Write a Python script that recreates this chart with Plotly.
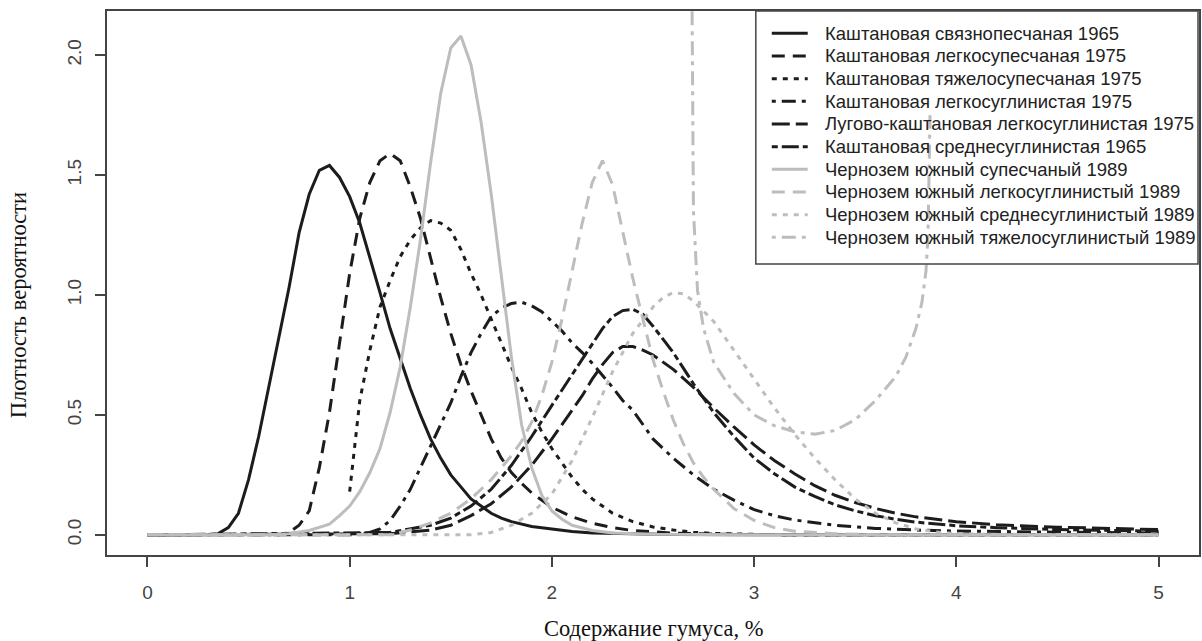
import plotly.graph_objects as go

# Humus content grid points (%) and probability density values per soil group
x_kvp65 = [0, 0.3, 0.35, 0.4, 0.45, 0.5, 0.55, 0.6, 0.65, 0.7, 0.75, 0.8, 0.85, 0.9, 0.95, 1.0,
           1.05, 1.1, 1.15, 1.2, 1.25, 1.3, 1.35, 1.4, 1.45, 1.5, 1.55, 1.6, 1.65, 1.7, 1.75, 1.8,
           1.9, 2.0, 2.1, 2.2, 2.4, 2.6, 3.0, 5.0]
y_kvp65 = [0, 0, 0.005, 0.03, 0.09, 0.23, 0.41, 0.62, 0.82, 1.03, 1.26, 1.42, 1.52, 1.54, 1.49, 1.41,
           1.30, 1.16, 1.01, 0.86, 0.73, 0.61, 0.50, 0.40, 0.32, 0.25, 0.20, 0.15, 0.12, 0.09, 0.07, 0.055,
           0.035, 0.024, 0.014, 0.008, 0.003, 0.001, 0, 0]

x_kls75 = [0, 0.65, 0.7, 0.75, 0.8, 0.85, 0.9, 0.95, 1.0, 1.05, 1.1, 1.15, 1.2, 1.25, 1.3, 1.35, 1.4,
           1.45, 1.5, 1.55, 1.6, 1.65, 1.7, 1.75, 1.8, 1.85, 1.9, 2.0, 2.1, 2.2, 2.3, 2.4, 2.6, 2.8, 3.0, 5.0]
y_kls75 = [0, 0, 0.01, 0.04, 0.10, 0.28, 0.51, 0.81, 1.09, 1.32, 1.47, 1.56, 1.59, 1.56, 1.45, 1.32, 1.15,
           0.99, 0.84, 0.71, 0.60, 0.50, 0.40, 0.32, 0.26, 0.215, 0.175, 0.115, 0.075, 0.048, 0.03, 0.018,
           0.007, 0.003, 0.001, 0]

x_kts75 = [1.0, 1.05, 1.1, 1.15, 1.2, 1.25, 1.3, 1.35, 1.4, 1.45, 1.5, 1.55, 1.6, 1.65, 1.7, 1.75, 1.8,
           1.85, 1.9, 1.95, 2.0, 2.05, 2.1, 2.15, 2.2, 2.3, 2.4, 2.5, 2.6, 2.7, 2.8, 3.0, 3.2, 5.0]
y_kts75 = [0.18, 0.56, 0.77, 0.95, 1.06, 1.16, 1.23, 1.28, 1.31, 1.30, 1.27, 1.19, 1.09, 1.00, 0.90, 0.80,
           0.70, 0.61, 0.51, 0.43, 0.36, 0.30, 0.24, 0.19, 0.15, 0.09, 0.055, 0.033, 0.02, 0.011, 0.006,
           0.002, 0, 0]

x_klg75 = [0, 1.0, 1.1, 1.15, 1.2, 1.25, 1.3, 1.35, 1.4, 1.45, 1.5, 1.55, 1.6, 1.65, 1.7, 1.75, 1.8, 1.85,
           1.9, 1.95, 2.0, 2.05, 2.1, 2.15, 2.2, 2.25, 2.3, 2.35, 2.4, 2.5, 2.6, 2.7, 2.8, 2.9, 3.0, 3.1,
           3.2, 3.4, 3.6, 3.8, 4.0, 4.5, 5.0]
y_klg75 = [0, 0, 0.01, 0.025, 0.06, 0.12, 0.19, 0.28, 0.37, 0.46, 0.55, 0.66, 0.76, 0.84, 0.91, 0.945,
           0.965, 0.97, 0.955, 0.93, 0.89, 0.85, 0.80, 0.76, 0.715, 0.665, 0.615, 0.56, 0.52, 0.40, 0.32,
           0.25, 0.19, 0.145, 0.105, 0.08, 0.062, 0.04, 0.027, 0.02, 0.016, 0.011, 0.008]

x_lkl75 = [0, 1.2, 1.4, 1.5, 1.6, 1.7, 1.8, 1.9, 2.0, 2.1, 2.15, 2.2, 2.25, 2.3, 2.35, 2.4, 2.45, 2.5,
           2.6, 2.7, 2.8, 2.9, 3.0, 3.1, 3.2, 3.3, 3.4, 3.5, 3.6, 3.7, 3.8, 4.0, 4.2, 4.5, 5.0]
y_lkl75 = [0, 0.005, 0.02, 0.04, 0.08, 0.13, 0.20, 0.29, 0.40, 0.52, 0.58, 0.65, 0.71, 0.76, 0.785,
           0.785, 0.77, 0.75, 0.69, 0.615, 0.53, 0.45, 0.375, 0.31, 0.255, 0.205, 0.165, 0.135, 0.11,
           0.09, 0.075, 0.055, 0.042, 0.032, 0.022]

x_ksr65 = [0, 1.2, 1.4, 1.5, 1.6, 1.7, 1.8, 1.9, 2.0, 2.1, 2.15, 2.2, 2.25, 2.3, 2.35, 2.4, 2.45, 2.5,
           2.6, 2.7, 2.8, 2.9, 3.0, 3.1, 3.2, 3.3, 3.4, 3.5, 3.6, 3.7, 3.8, 4.0, 4.2, 4.5, 5.0]
y_ksr65 = [0, 0.01, 0.04, 0.07, 0.12, 0.19, 0.29, 0.41, 0.54, 0.67, 0.73, 0.80, 0.86, 0.91, 0.935,
           0.94, 0.92, 0.87, 0.76, 0.63, 0.51, 0.41, 0.32, 0.255, 0.20, 0.16, 0.125, 0.10, 0.08, 0.065,
           0.053, 0.038, 0.03, 0.022, 0.015]

x_chs89 = [0, 0.6, 0.7, 0.8, 0.9, 0.95, 1.0, 1.05, 1.1, 1.15, 1.2, 1.25, 1.3, 1.35, 1.4, 1.45, 1.5, 1.55,
           1.6, 1.65, 1.7, 1.75, 1.8, 1.85, 1.9, 1.95, 2.0, 2.05, 2.1, 2.2, 2.3, 2.5, 3.0, 5.0]
y_chs89 = [0, 0, 0.005, 0.018, 0.045, 0.08, 0.12, 0.18, 0.26, 0.36, 0.51, 0.70, 0.95, 1.23, 1.55, 1.84,
           2.03, 2.08, 1.96, 1.72, 1.42, 1.08, 0.74, 0.46, 0.28, 0.165, 0.10, 0.065, 0.04, 0.018, 0.008,
           0.002, 0, 0]

x_chl89 = [0, 1.2, 1.3, 1.4, 1.5, 1.6, 1.7, 1.8, 1.85, 1.9, 1.95, 2.0, 2.05, 2.1, 2.15, 2.2, 2.25, 2.3,
           2.35, 2.4, 2.45, 2.5, 2.55, 2.6, 2.65, 2.7, 2.75, 2.8, 2.85, 2.9, 3.0, 3.1, 3.2, 3.4, 3.6, 5.0]
y_chl89 = [0, 0, 0.02, 0.05, 0.09, 0.15, 0.23, 0.33, 0.39, 0.47, 0.58, 0.72, 0.90, 1.10, 1.30, 1.47,
           1.56, 1.46, 1.27, 1.07, 0.90, 0.73, 0.60, 0.48, 0.38, 0.30, 0.24, 0.19, 0.15, 0.11, 0.06,
           0.03, 0.015, 0.005, 0, 0]

x_chm89 = [0, 1.6, 1.7, 1.8, 1.9, 2.0, 2.1, 2.2, 2.3, 2.4, 2.5, 2.55, 2.6, 2.65, 2.7, 2.8, 2.9, 3.0,
           3.1, 3.2, 3.3, 3.4, 3.5, 3.6, 3.7, 3.8, 3.9, 4.0, 4.2, 5.0]
y_chm89 = [0, 0, 0.01, 0.04, 0.09, 0.17, 0.31, 0.49, 0.68, 0.84, 0.95, 0.99, 1.01, 1.005, 0.975, 0.89,
           0.77, 0.65, 0.53, 0.42, 0.32, 0.23, 0.15, 0.09, 0.05, 0.025, 0.012, 0.005, 0.001, 0]

x_cht89 = [2.69, 2.70, 2.72, 2.75, 2.8, 2.9, 3.0, 3.1, 3.2, 3.3, 3.4, 3.5, 3.6, 3.7, 3.75, 3.8, 3.83,
           3.85, 3.86, 3.87]
y_cht89 = [2.6, 1.35, 1.02, 0.86, 0.72, 0.59, 0.50, 0.455, 0.43, 0.42, 0.435, 0.48, 0.56, 0.66, 0.74,
           0.86, 0.97, 1.10, 1.25, 1.75]

series_names = [
    "Каштановая связнопесчаная 1965",
    "Каштановая легкосупесчаная 1975",
    "Каштановая тяжелосупесчаная 1975",
    "Каштановая легкосуглинистая 1975",
    "Лугово-каштановая легкосуглинистая 1975",
    "Каштановая среднесуглинистая 1965",
    "Чернозем южный супесчаный 1989",
    "Чернозем южный легкосуглинистый 1989",
    "Чернозем южный среднесуглинистый 1989",
    "Чернозем южный тяжелосуглинистый 1989",
]
series_x = [x_kvp65, x_kls75, x_kts75, x_klg75, x_lkl75, x_ksr65, x_chs89, x_chl89, x_chm89, x_cht89]
series_y = [y_kvp65, y_kls75, y_kts75, y_klg75, y_lkl75, y_ksr65, y_chs89, y_chl89, y_chm89, y_cht89]

x_ticks = [0, 1, 2, 3, 4, 5]
y_ticks = [0.0, 0.5, 1.0, 1.5, 2.0]

BLACK = "#1c1c1c"
GRAY = "#bdbdbd"
dash_styles = {
    "solid": "solid",
    "dashed": "13px,8px",
    "dotted": "5px,6px",
    "dotdash": "4px,6px,14px,6px",
    "longdash": "18px,6px",
    "twodash": "6px,4px,17px,4px",
}
styles = [
    (BLACK, "solid"), (BLACK, "dashed"), (BLACK, "dotted"), (BLACK, "dotdash"),
    (BLACK, "longdash"), (BLACK, "twodash"),
    (GRAY, "solid"), (GRAY, "dashed"), (GRAY, "dotted"), (GRAY, "dotdash"),
]

fig = go.Figure()
for name, xs, ys, (col, lty) in zip(series_names, series_x, series_y, styles):
    fig.add_trace(go.Scatter(
        x=xs, y=ys, mode="lines", name=name, showlegend=False,
        line=dict(color=col, width=3, dash=dash_styles[lty]),
    ))

# plot area: 107..1201 px horizontally, 11..555 px vertically
L, R, T, B = 107, 1, 11, 86
W, H = 1202, 641
pw, ph = W - L - R, H - T - B


def px_x(p):
    return (p - L) / pw


def px_y(p):
    return 1 - (p - T) / ph


axis_font = dict(family="Liberation Sans, Arial, sans-serif", size=19, color="#444444")
title_font = dict(family="Liberation Serif, Times New Roman, serif", size=22.5, color="#111111")
legend_font = dict(family="Liberation Sans, Arial, sans-serif", size=18.5, color="#222222")

# legend box (transparent, curves show through) with key lines and labels
shapes = [dict(
    type="rect", xref="paper", yref="paper",
    x0=px_x(757), x1=px_x(1200), y0=px_y(264), y1=1,
    line=dict(color="#444444", width=1.5), fillcolor="rgba(0,0,0,0)",
)]
annotations = []
row0, row_step = 33.3, 22.67
for i, (name, (col, lty)) in enumerate(zip(series_names, styles)):
    yc = px_y(row0 + i * row_step)
    shapes.append(dict(
        type="line", xref="paper", yref="paper",
        x0=px_x(773), x1=px_x(809), y0=yc, y1=yc,
        line=dict(color=col, width=3, dash=dash_styles[lty]),
    ))
    annotations.append(dict(
        text=name, xref="paper", yref="paper", x=px_x(824), y=yc,
        xanchor="left", yanchor="middle", showarrow=False, font=legend_font,
    ))

annotations += [
    dict(text="Содержание гумуса, %", xref="paper", yref="paper",
         x=0.5, y=px_y(628), xanchor="center", yanchor="middle",
         showarrow=False, font=title_font),
    dict(text="Плотность вероятности", xref="paper", yref="paper",
         x=px_x(18), y=px_y(305), xanchor="center", yanchor="middle",
         textangle=-90, showarrow=False, font=title_font),
]

fig.update_layout(
    width=W, height=H,
    margin=dict(l=L, r=R, t=T, b=B),
    paper_bgcolor="white", plot_bgcolor="white",
    showlegend=False,
    xaxis=dict(
        range=[-0.2, 5.2], tickvals=x_ticks, ticktext=[str(v) for v in x_ticks],
        showgrid=False, zeroline=False, showline=True, mirror=True,
        linecolor="#444444", linewidth=1.5,
        ticks="outside", ticklen=10, tickwidth=1.5, tickcolor="#444444",
        tickfont=axis_font, ticklabelstandoff=9,
    ),
    yaxis=dict(
        range=[-0.084, 2.184], tickvals=y_ticks, ticktext=[f"{v:.1f}" for v in y_ticks],
        showgrid=False, zeroline=False, showline=True, mirror=True,
        linecolor="#444444", linewidth=1.5,
        ticks="outside", ticklen=10, tickwidth=1.5, tickcolor="#444444",
        tickfont=axis_font, tickangle=-90, ticklabelstandoff=7,
    ),
    shapes=shapes,
    annotations=annotations,
)

fig.write_html("out.html")
